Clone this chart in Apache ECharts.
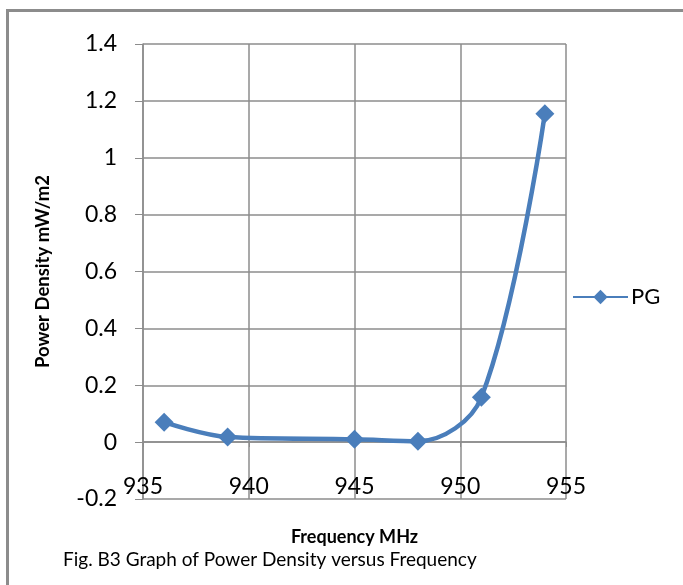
<!DOCTYPE html>
<html lang="en">
<head>
  <meta charset="UTF-8">
  <title>Fig. B3 Graph of Power Density versus Frequency</title>
  <script src="https://cdn.jsdelivr.net/npm/echarts@6/dist/echarts.min.js"></script>
  <style>
    html, body {
      margin: 0;
      padding: 0;
      background: #fff;
    }
    #main {
      width: 683px;
      height: 585px;
    }
  </style>
</head>
<body>
  <div id="main"></div>

  <script>
    // values
    const frequency = [936, 939, 945, 948, 951, 954];
    const powerDensity = [0.07, 0.018, 0.01, 0.003, 0.158, 1.155];
    const seriesName = 'PG';

    const chart = echarts.init(document.getElementById('main'));
    const font = 'Lato, "Open Sans", sans-serif';
    const grey = '#8c8c8c';
    const blue = '#4a7ebb';

    const option = {
      animation: false,
      textStyle: { fontFamily: font },
      grid: { left: 143, right: 117, top: 44, bottom: 86, outerBoundsMode: 'none' },
      legend: {
        data: [seriesName],
        left: 567,
        top: 281,
        itemWidth: 55,
        itemHeight: 18,
        itemGap: 0,
        textStyle: { fontFamily: font, fontSize: 22, color: '#000', padding: [0, 0, 0, -2] }
      },
      xAxis: {
        type: 'value',
        min: 935,
        max: 955,
        interval: 5,
        // axis sits at the bottom; shift it up onto the zero line (one 0.2 step)
        offset: -57,
        name: 'Frequency MHz',
        nameLocation: 'middle',
        nameGap: 86,
        nameTextStyle: { fontFamily: font, fontSize: 18, fontWeight: 'bold', color: '#000' },
        axisLine: { show: true, onZero: false, lineStyle: { color: grey, width: 1.5 } },
        axisTick: { show: true, length: 5, lineStyle: { color: grey } },
        axisLabel: { fontFamily: font, fontSize: 23, color: '#000', margin: 33 },
        splitLine: { show: true, lineStyle: { color: grey, width: 1.5 } }
      },
      yAxis: {
        type: 'value',
        min: -0.2,
        max: 1.4,
        interval: 0.2,
        name: 'Power Density mW/m2',
        nameLocation: 'middle',
        nameGap: 90,
        nameTextStyle: { fontFamily: font, fontSize: 18.5, fontWeight: 'bold', color: '#000' },
        axisLine: { show: true, onZero: false, lineStyle: { color: grey, width: 1.5 } },
        axisTick: { show: true, length: 8, lineStyle: { color: grey } },
        axisLabel: {
          fontFamily: font,
          fontSize: 23,
          color: '#000',
          margin: 26,
          formatter: v => String(Math.round(v * 10) / 10)
        },
        splitLine: { show: true, lineStyle: { color: grey, width: 1.5 } }
      },
      series: [
        {
          name: seriesName,
          type: 'line',
          smooth: 0.35,
          data: frequency.map((f, i) => [f, powerDensity[i]]),
          symbol: 'diamond',
          symbolSize: 19,
          lineStyle: { color: blue, width: 4.5 },
          itemStyle: { color: blue }
        }
      ],
      graphic: [
        {
          type: 'rect',
          left: 5,
          top: 8,
          shape: { width: 800, height: 700 },
          style: { fill: 'none', stroke: grey, lineWidth: 3 },
          silent: true
        },
        {
          type: 'text',
          left: 63,
          top: 550,
          style: {
            text: 'Fig. B3 Graph of Power Density versus Frequency',
            font: '19px ' + font,
            fill: '#000'
          }
        }
      ]
    };

    chart.setOption(option);
  </script>
</body>
</html>
